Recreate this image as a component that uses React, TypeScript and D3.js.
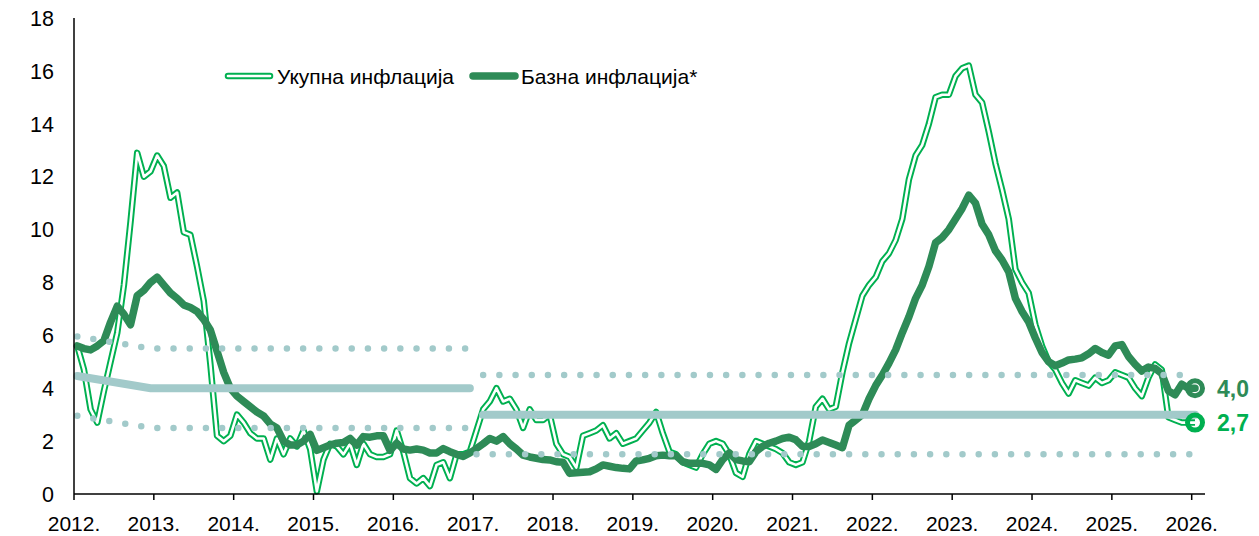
import * as d3 from "d3";

// monthly, Jan 2012 .. Jan 2026 (y/y, %)
const years = ["2012.", "2013.", "2014.", "2015.", "2016.", "2017.", "2018.", "2019.", "2020.", "2021.", "2022.", "2023.", "2024.", "2025.", "2026."];
const yTicks = [0, 2, 4, 6, 8, 10, 12, 14, 16, 18];

const totalInflation = [
  5.6, 4.7, 3.2, 2.7, 3.9, 5.0, 6.1, 7.9, 10.3, 12.9, 12.0, 12.2,
  12.8, 12.4, 11.2, 11.4, 9.9, 9.8, 8.6, 7.3, 4.9, 2.2, 2.0, 2.2,
  3.0, 2.7, 2.3, 2.1, 2.1, 1.3, 2.1, 1.5, 2.1, 1.8, 2.4, 1.7,
  0.1, 1.3, 1.9, 1.8, 1.5, 1.9, 1.1, 1.9, 1.5, 1.4, 1.4, 1.5,
  2.4, 1.6, 0.6, 0.4, 0.6, 0.3, 1.1, 1.2, 0.6, 1.5, 1.5, 1.6,
  2.4, 3.2, 3.5, 4.0, 3.5, 3.6, 3.2, 2.5, 3.2, 2.8, 2.8, 3.0,
  1.9, 1.5, 1.4, 1.0, 2.2, 2.3, 2.4, 2.6, 2.1, 2.3, 1.9, 2.0,
  2.1, 2.4, 2.7, 3.1, 2.3, 1.6, 1.5, 1.2, 1.1, 1.0, 1.5, 1.9,
  2.0, 1.9, 1.5, 0.8, 0.65, 1.5, 2.0, 1.9, 1.8, 1.7, 1.55, 1.2,
  1.1, 1.2, 2.0, 3.3, 3.6, 3.2, 3.3, 4.6, 5.7, 6.6, 7.5, 7.9,
  8.2, 8.8, 9.1, 9.6, 10.4, 11.9, 12.8, 13.2, 14.0, 15.0, 15.1, 15.1,
  15.8, 16.1, 16.2, 15.1, 14.8, 13.7, 12.5, 11.5, 10.4, 8.5, 8.0, 7.6,
  6.4, 5.6, 5.0, 4.7, 4.2, 3.8, 4.3, 4.2, 4.1, 4.4, 4.2, 4.3,
  4.6, 4.5, 4.4, 4.0, 3.7, 4.4, 4.9, 4.7, 2.9, 2.8, 2.7, 2.7,
  2.7,
];

const coreInflation = [
  5.6, 5.5, 5.45, 5.6, 5.8, 6.5, 7.1, 6.8, 6.4, 7.5, 7.7, 8.0,
  8.2, 7.9, 7.6, 7.4, 7.15, 7.05, 6.9, 6.6, 6.2, 5.4, 4.6, 4.0,
  3.7, 3.5, 3.3, 3.1, 2.95, 2.65, 2.5, 2.0, 1.85, 1.85, 2.0, 2.25,
  1.65, 1.75, 1.85, 1.92, 1.95, 2.1, 1.85, 2.17, 2.15, 2.2, 2.2, 1.65,
  1.92, 1.7, 1.66, 1.7, 1.66, 1.55, 1.55, 1.72, 1.6, 1.5, 1.42, 1.55,
  1.72, 1.9, 2.1, 2.0, 2.17, 1.9, 1.7, 1.47, 1.4, 1.35, 1.3, 1.29,
  1.22, 1.2, 0.78, 0.8, 0.82, 0.84, 0.95, 1.1, 1.05, 1.0, 0.97, 0.95,
  1.25, 1.29, 1.35, 1.45, 1.47, 1.45, 1.45, 1.22, 1.16, 1.16, 1.16, 1.1,
  0.93, 1.3, 1.55, 1.3, 1.25, 1.22, 1.6, 1.8, 1.92, 2.0, 2.1, 2.15,
  2.05, 1.8, 1.8, 1.9, 2.04, 1.95, 1.85, 1.75, 2.6, 2.8, 3.0, 3.6,
  4.1, 4.5, 4.95, 5.45, 6.1, 6.7, 7.4, 7.9, 8.6, 9.5, 9.7, 10.0,
  10.4, 10.8, 11.3, 11.0, 10.2, 9.8, 9.2, 8.85, 8.4, 7.4, 6.9, 6.5,
  5.9, 5.35, 5.0, 4.85, 4.95, 5.07, 5.1, 5.15, 5.3, 5.5, 5.35, 5.25,
  5.6, 5.65, 5.2, 4.9, 4.65, 4.8, 4.75, 4.55, 3.9, 3.75, 4.15, 4.0,
  4.0,
];

// inflation target and tolerance band: [month index, value]
const targetMid1: [number, number][] = [[0, 4.46], [11, 4.0], [59, 4.0]];
const targetHigh1: [number, number][] = [[0, 5.96], [11, 5.5], [59, 5.5]];
const targetLow1: [number, number][] = [[0, 2.96], [11, 2.5], [59, 2.5]];
const targetMid2: [number, number][] = [[61, 3.0], [168, 3.0]];
const targetHigh2: [number, number][] = [[61, 4.5], [168, 4.5]];
const targetLow2: [number, number][] = [[60, 1.5], [168, 1.5]];

const W = 1259;
const H = 536;
const FONT = "'Liberation Sans', Arial, sans-serif";
const GREEN = "#00B050";
const DARK = "#2E8B57";
const BAND = "#A2CACA";

export default function App() {
  const x = d3.scaleLinear().domain([0, 170]).range([74, 1205]);
  const y = d3.scaleLinear().domain([0, 18]).range([494, 18]);
  const px = (i: number) => x(i + 0.5);

  const line = d3
    .line<number>()
    .x((_, i) => px(i))
    .y((d) => y(d));
  const seg = d3
    .line<[number, number]>()
    .x((d) => px(d[0]))
    .y((d) => y(d[1]));

  const lastI = totalInflation.length - 1;
  const lastTotal = totalInflation[lastI];
  const lastCore = coreInflation[lastI];
  const fmt = (v: number) => v.toFixed(1).replace(".", ",");

  const dotted = { stroke: BAND, strokeWidth: 6.5, strokeLinecap: "round" as const, strokeDasharray: "0 16.2", fill: "none" };
  const solid = { stroke: BAND, strokeWidth: 8, strokeLinecap: "round" as const, fill: "none" };

  return (
    <svg width={W} height={H} style={{ position: "absolute", left: 0, top: 0, background: "#fff" }} fontFamily={FONT}>
      {/* data */}
      <path d={line(totalInflation) ?? ""} fill="none" stroke={GREEN} strokeWidth={6.5} strokeLinejoin="round" />
      <path d={line(totalInflation) ?? ""} fill="none" stroke="#fff" strokeWidth={2.6} strokeLinejoin="round" />
      <path d={line(coreInflation) ?? ""} fill="none" stroke={DARK} strokeWidth={7.5} strokeLinejoin="round" strokeLinecap="round" />

      {/* target band */}
      <path d={seg(targetHigh1) ?? ""} {...dotted} />
      <path d={seg(targetLow1) ?? ""} {...dotted} />
      <path d={seg(targetMid1) ?? ""} {...solid} />
      <path d={seg(targetHigh2) ?? ""} {...dotted} />
      <path d={seg(targetLow2) ?? ""} {...dotted} />
      <path d={seg(targetMid2) ?? ""} {...solid} />

      {/* end markers */}
      <circle cx={px(lastI)} cy={y(lastCore)} r={7.5} fill="none" stroke={DARK} strokeWidth={5} />
      <circle cx={px(lastI)} cy={y(lastTotal)} r={7.5} fill="none" stroke={GREEN} strokeWidth={5} />
      <text x={1217} y={y(lastCore) + 8.5} fontSize={23} fontWeight="bold" fill={DARK}>
        {fmt(lastCore)}
      </text>
      <text x={1217} y={y(lastTotal) + 8.5} fontSize={23} fontWeight="bold" fill={GREEN}>
        {fmt(lastTotal)}
      </text>

      {/* axes */}
      <line x1={74} x2={74} y1={y(18)} y2={y(0)} stroke="#000" strokeWidth={1.5} />
      <line x1={74} x2={1205} y1={y(0)} y2={y(0)} stroke="#000" strokeWidth={1.5} />
      {yTicks.map((t) => (
        <text key={t} x={54} y={y(t)} dy="0.36em" textAnchor="end" fontSize={21.5} fill="#000">
          {t}
        </text>
      ))}
      {years.map((label, k) => (
        <g key={label}>
          <line x1={x(k * 12)} x2={x(k * 12)} y1={y(0)} y2={y(0) + 6} stroke="#000" strokeWidth={1.5} />
          <text x={x(k * 12)} y={531} textAnchor="middle" fontSize={21} fill="#000">
            {label}
          </text>
        </g>
      ))}

      {/* legend */}
      <line x1={228} x2={270} y1={76} y2={76} stroke={GREEN} strokeWidth={6.5} strokeLinecap="round" />
      <line x1={228} x2={270} y1={76} y2={76} stroke="#fff" strokeWidth={2.6} strokeLinecap="round" />
      <text x={277} y={84} fontSize={21} fill="#000">
        Укупна инфлација
      </text>
      <line x1={473} x2={515} y1={76} y2={76} stroke={DARK} strokeWidth={7.5} strokeLinecap="round" />
      <text x={521} y={84} fontSize={21} fill="#000">
        Базна инфлација*
      </text>
    </svg>
  );
}
